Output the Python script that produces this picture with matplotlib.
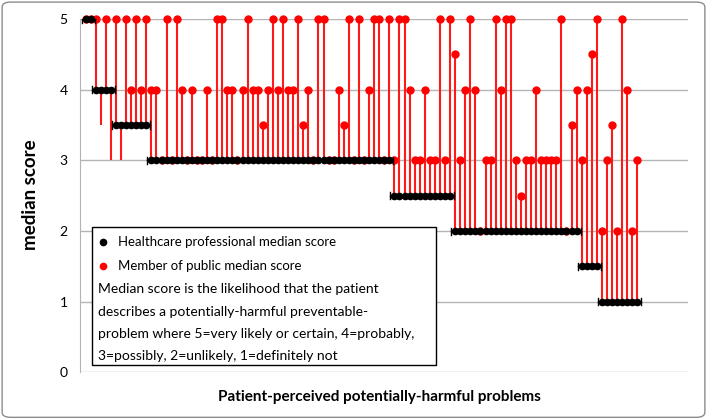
import matplotlib.pyplot as plt
from matplotlib.patches import Rectangle, FancyBboxPatch
from matplotlib.lines import Line2D

# healthcare professional medians (sorted), one per problem
professional = [
    5, 5,
    4, 4, 4, 4,
    3.5, 3.5, 3.5, 3.5, 3.5, 3.5, 3.5,
    3, 3, 3, 3, 3, 3, 3, 3, 3, 3, 3, 3, 3, 3, 3, 3, 3, 3, 3, 3, 3, 3, 3, 3,
    3, 3, 3, 3, 3, 3, 3, 3, 3, 3, 3, 3, 3, 3, 3, 3, 3, 3, 3, 3, 3, 3, 3, 3,
    2.5, 2.5, 2.5, 2.5, 2.5, 2.5, 2.5, 2.5, 2.5, 2.5, 2.5, 2.5,
    2, 2, 2, 2, 2, 2, 2, 2, 2, 2, 2, 2, 2, 2, 2, 2, 2, 2, 2, 2, 2, 2, 2, 2, 2,
    1.5, 1.5, 1.5, 1.5,
    1, 1, 1, 1, 1, 1, 1, 1,
]

# member of public medians, same order
public = [
    5, 5,
    5, 3.5, 5, 3,
    5, 3, 5, 4, 5, 4, 5,
    4, 4, 3, 5, 3, 5, 4, 3, 4, 3, 3, 4, 3, 5, 5, 4, 4, 3, 4, 5, 4, 4, 3.5, 4,
    5, 4, 5, 4, 4, 5, 3.5, 4, 3, 5, 5, 3, 3, 4, 3.5, 5, 3, 5, 3, 4, 5, 5, 3, 5,
    3, 5, 5, 4, 3, 3, 4, 3, 3, 5, 3, 5,
    4.5, 3, 4, 5, 4, 2, 3, 3, 5, 4, 5, 5, 3, 2.5, 3, 3, 4, 3, 3, 3, 3, 5, 2, 3.5, 4,
    3, 4, 4.5, 5,
    2, 3, 3.5, 2, 5, 4, 2, 3,
]

y_ticks = [0, 1, 2, 3, 4, 5]
legend_labels = ["Healthcare professional median score", "Member of public median score"]
note_lines = [
    "Median score is the likelihood that the patient",
    "describes a potentially-harmful preventable-",
    "problem where 5=very likely or certain, 4=probably,",
    "3=possibly, 2=unlikely, 1=definitely not",
]

plt.rcParams['font.family'] = ['Lato', 'DejaVu Sans']

fig = plt.figure(figsize=(7.07, 4.19), dpi=100)
ax = fig.add_axes([0.1132, 0.111, 0.8599, 0.8437])

x = list(range(len(professional)))

ax.vlines(x, professional, public, color='#ff1a1a', linewidth=1.5, zorder=2)
# only the public dots at or above the professional score show in the original
up_x = [i for i in x if public[i] >= professional[i]]
up_y = [public[i] for i in up_x]
ax.plot(up_x, up_y, 'o', color='#ff0000', markersize=5, zorder=3, clip_on=False)

# horizontal bars with caps over each run of equal professional scores
start = 0
for i in range(1, len(professional) + 1):
    if i == len(professional) or professional[i] != professional[start]:
        lo, hi = start - 0.8, i - 1 + 0.8
        yv = professional[start]
        ax.plot([lo, hi], [yv, yv], color='black', linewidth=1, zorder=4)
        ax.plot([lo, lo], [yv - 0.05, yv + 0.05], color='black', linewidth=1, zorder=4)
        ax.plot([hi, hi], [yv - 0.05, yv + 0.05], color='black', linewidth=1, zorder=4)
        start = i

ax.plot(x, professional, 'o', color='black', markersize=4.5, zorder=5, clip_on=False)

ax.set_xlim(-1.1, 119)
ax.set_ylim(0, 5)
ax.set_yticks(y_ticks)
ax.set_xticks([])
ax.tick_params(axis='y', length=0, pad=9, labelsize=10)
ax.grid(axis='y', color='#b4b4b4', linewidth=1)
ax.set_axisbelow(True)
for s in ['top', 'right', 'bottom']:
    ax.spines[s].set_visible(False)
ax.spines['left'].set_color('#b4b4b4')

fig.text(0.043, 0.535, "median score", rotation=90, ha='center', va='center',
         fontsize=13.5, fontweight='bold')
fig.text(0.536, 0.052, "Patient-perceived potentially-harmful problems",
         ha='center', va='center', fontsize=11, fontweight='bold')

# legend / note box
W, H = 707, 419
fig.patches.append(Rectangle((92 / W, 1 - 365 / H), 344 / W, 138 / H,
                             transform=fig.transFigure, facecolor='white',
                             edgecolor='black', linewidth=1, zorder=10))
fig.lines.append(Line2D([103 / W], [1 - 242 / H], marker='o', color='black',
                        markersize=4.5, transform=fig.transFigure, zorder=11))
fig.lines.append(Line2D([103 / W], [1 - 266 / H], marker='o', color='#ff0000',
                        markersize=4.5, transform=fig.transFigure, zorder=11))
fig.text(118 / W, 1 - 242 / H, legend_labels[0], va='center', fontsize=9.5, zorder=12)
fig.text(118 / W, 1 - 266 / H, legend_labels[1], va='center', fontsize=9.5, zorder=12)
for k, line in enumerate(note_lines):
    fig.text(98 / W, 1 - (289 + 22.5 * k) / H, line, va='center', fontsize=10, zorder=12)

fig.patches.append(FancyBboxPatch((0.003, 0.004), 0.994, 0.991,
                                  boxstyle='round,pad=0,rounding_size=0.012',
                                  transform=fig.transFigure, facecolor='none',
                                  edgecolor='#8c8c8c', linewidth=1))

fig.savefig("out.png", dpi=100)
